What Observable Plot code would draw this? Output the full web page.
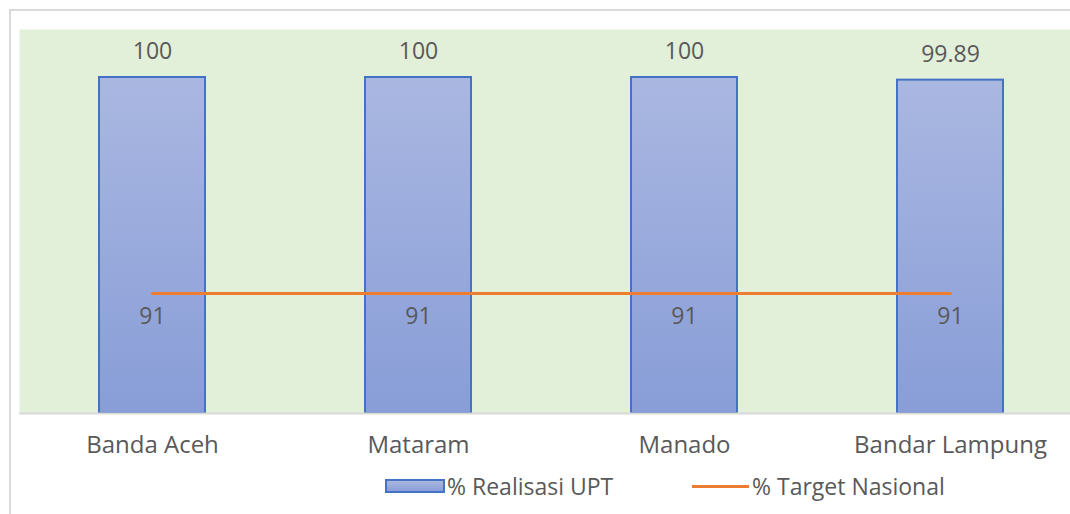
<!DOCTYPE html>
<html>
<head>
<meta charset="utf-8">
<script src="https://cdn.jsdelivr.net/npm/d3@7"></script>
<script src="https://cdn.jsdelivr.net/npm/@observablehq/plot@0.6"></script>
<style>
  html, body { margin: 0; padding: 0; background: #fff; overflow: hidden; width: 1070px; height: 514px; }
  #wrap { position: relative; width: 1070px; height: 514px; overflow: hidden; font-family: "Open Sans", sans-serif; }
  #border { position: absolute; left: 9px; top: 9px; width: 1100px; height: 520px; border: 2px solid #d9d9d9; box-sizing: border-box; }
  #chart { position: absolute; left: 0; top: 0; width: 1083px; }
  #chart svg { max-width: none !important; }
  #legend { position: absolute; top: 471px; left: 0; width: 1070px; height: 30px; font-size: 23px; color: #595959; }
  .item { position: absolute; top: 0; display: flex; align-items: center; height: 30px; }
  .sw-bar { width: 60px; height: 14px; border: 2px solid #4472c4; background: linear-gradient(#a9b6e0, #8a9fd8); margin-right: 2px; box-sizing: border-box; }
  .sw-line { width: 57px; height: 3px; background: #ed7d31; margin-right: 3px; }
</style>
</head>
<body>
<div id="wrap">
  <div id="border"></div>
  <div id="chart"></div>
  <div id="legend">
    <div class="item" style="left:385px"><div class="sw-bar"></div><span>% Realisasi UPT</span></div>
    <div class="item" style="left:692px"><div class="sw-line"></div><span>% Target Nasional</span></div>
  </div>
</div>
<script>
const categories = ["Banda Aceh", "Mataram", "Manado", "Bandar Lampung"];
const realisasi = [100, 100, 100, 99.89];
const target = [91, 91, 91, 91];
const yMin = 86;
const yMax = 102;

const data = categories.map((c, i) => ({cat: c, real: realisasi[i], target: target[i]}));
const fmt = v => String(v);

const plot = Plot.plot({
  width: 1083,
  height: 470,
  marginTop: 29,
  marginBottom: 57,
  marginLeft: 19,
  marginRight: 0,
  style: {fontFamily: "Open Sans, sans-serif", fontSize: "24px", color: "#595959", background: "transparent", maxWidth: "none"},
  x: {domain: categories, paddingInner: 0.6, paddingOuter: 0.3, label: null},
  y: {domain: [yMin, yMax], axis: null},
  marks: [
    Plot.frame({fill: "#e2efd9", stroke: null}),
    Plot.barY(data, {x: "cat", y1: () => yMin, y2: "real", fill: "url(#barGrad)", stroke: "#4472c4", strokeWidth: 2}),
    Plot.ruleY([yMin], {stroke: "#d9d9d9", strokeWidth: 2}),
    Plot.lineY(data, {x: "cat", y: "target", stroke: "#ed7d31", strokeWidth: 3}),
    Plot.text(data, {x: "cat", y: "real", text: d => fmt(d.real), dy: -26, fill: "#595959", fontSize: 23}),
    Plot.text(data, {x: "cat", y: "target", text: d => fmt(d.target), dy: 23, fill: "#595959", fontSize: 23}),
    Plot.axisX({tickSize: 0, tickPadding: 22, fontSize: 24, fill: "#595959", label: null})
  ]
});

const svg = d3.select(plot);
const defs = svg.insert("defs", ":first-child");
const g = defs.append("linearGradient").attr("id", "barGrad").attr("x1", 0).attr("y1", 0).attr("x2", 0).attr("y2", 1);
g.append("stop").attr("offset", "0%").attr("stop-color", "#aab7e1");
g.append("stop").attr("offset", "100%").attr("stop-color", "#889dd7");

document.getElementById("chart").appendChild(plot);
</script>
</body>
</html>
